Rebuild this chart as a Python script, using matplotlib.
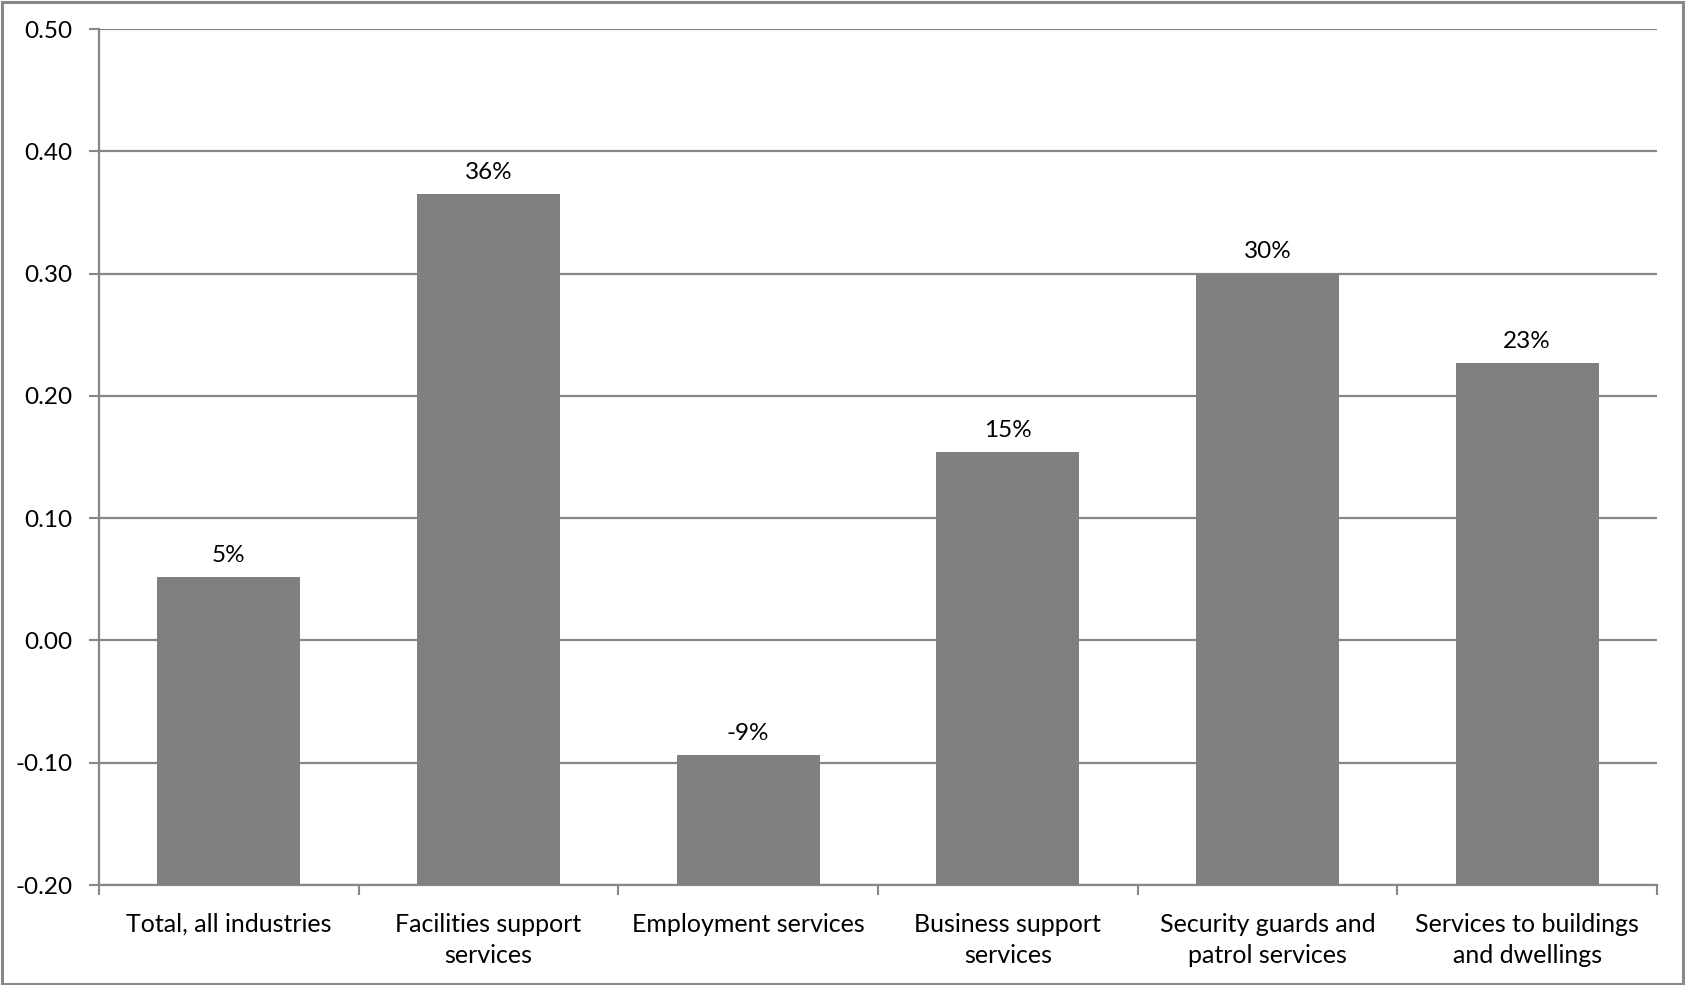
import matplotlib
matplotlib.use("Agg")
import matplotlib.pyplot as plt
from matplotlib.patches import Rectangle
import numpy as np

categories = ["Total, all industries", "Facilities support\nservices", "Employment services",
              "Business support\nservices", "Security guards and\npatrol services",
              "Services to buildings\nand dwellings"]
values = [0.052, 0.365, -0.094, 0.154, 0.300, 0.227]
yticks = [-0.20, -0.10, 0.00, 0.10, 0.20, 0.30, 0.40, 0.50]

plt.rcParams['font.family'] = ['Lato', 'DejaVu Sans']
grid_c = '#878787'

fig = plt.figure(figsize=(16.85, 9.85), dpi=100)
ax = fig.add_axes([99/1685, 1-885/985, (1657-99)/1685, (885-29)/985])

base = -0.20
x = np.arange(len(categories))
heights = [v - base for v in values]
ax.bar(x, heights, bottom=base, width=0.55, color='#808080', zorder=3)
for xi, v in zip(x, values):
    ax.annotate(f"{round(v*100):.0f}%", (xi, v), xytext=(0, 8), textcoords='offset points',
                ha='center', va='bottom', fontsize=17.5, color='black', zorder=4)

ax.set_xlim(-0.5, len(categories) - 0.5)
ax.set_ylim(-0.20, 0.50)
ax.set_yticks(yticks)
ax.set_yticklabels([f"{t:.2f}" for t in yticks], fontsize=17.5)
ax.yaxis.grid(True, color=grid_c, linewidth=1.6, zorder=0)
ax.set_axisbelow(True)

ax.set_xticks(x)
ax.set_xticklabels(categories, fontsize=18, linespacing=1.45)
ax.tick_params(axis='x', length=0, pad=20)
ax.set_xticks(np.arange(len(categories) + 1) - 0.5, minor=True)
ax.tick_params(axis='x', which='minor', length=7, width=1.5, color=grid_c, direction='out')
ax.tick_params(axis='y', length=7, width=1.5, color=grid_c, direction='out', pad=12)

for s in ['top', 'right']:
    ax.spines[s].set_visible(False)
for s in ['left', 'bottom']:
    ax.spines[s].set_color(grid_c)
    ax.spines[s].set_linewidth(1.6)

fig.patches.append(Rectangle((0.001, 0.001), 0.998, 0.997, transform=fig.transFigure,
                             fill=False, edgecolor='#888888', linewidth=2.2))

fig.savefig("out.png", dpi=100, facecolor='white')
